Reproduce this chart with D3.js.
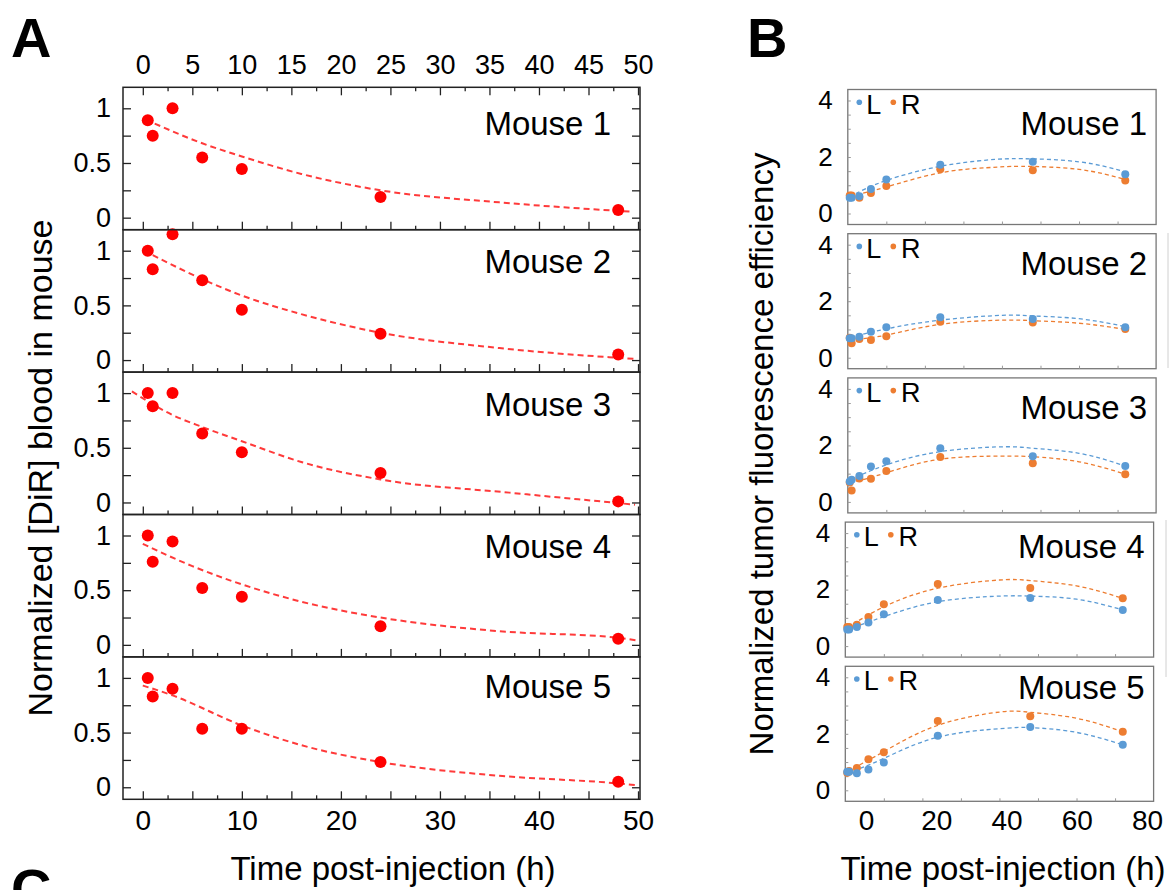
<!DOCTYPE html>
<html>
<head>
<meta charset="utf-8">
<script src="https://cdn.jsdelivr.net/npm/d3@7"></script>
<style>
  body { margin: 0; background: #fff; }
  svg { display: block; }
  text { font-family: "Liberation Sans", Arial, Helvetica, sans-serif; }
</style>
</head>
<body>
<svg id="fig" width="1173" height="890"></svg>
<script>
// ---------- panel A data: normalized [DiR] in blood ----------
var timesA = [0.5, 1, 3, 6, 10, 24, 48];
var mouse1 = [0.89, 0.75, 1.0, 0.55, 0.445, 0.19, 0.07];
var mouse2 = [1.0, 0.83, 1.15, 0.73, 0.46, 0.24, 0.05];
var mouse3 = [1.0, 0.88, 1.0, 0.63, 0.46, 0.27, 0.01];
var mouse4 = [1.0, 0.76, 0.945, 0.52, 0.44, 0.17, 0.055];
var mouse5 = [1.0, 0.83, 0.90, 0.535, 0.535, 0.23, 0.05];
var bloodA = [mouse1, mouse2, mouse3, mouse4, mouse5];

// fitted decay curves as [t, value]
var fit1 = [[1.2, 0.86], [6, 0.68], [10, 0.56], [16, 0.40], [24, 0.25], [36, 0.14], [49.3, 0.055]];
var fit2 = [[1, 0.96], [6, 0.74], [10, 0.59], [16, 0.42], [24, 0.25], [36, 0.11], [49.7, 0.01]];
var fit3 = [[-1.1, 1.015], [3, 0.80], [6, 0.69], [10, 0.56], [16, 0.37], [24, 0.21], [37, 0.09], [49.7, -0.02]];
var fit4 = [[0, 0.924], [5, 0.72], [10, 0.553], [16, 0.395], [24, 0.25], [36, 0.125], [48, 0.065], [50.1, 0.036]];
var fit5 = [[0, 0.93], [3, 0.84], [10, 0.565], [16, 0.385], [24, 0.23], [36, 0.105], [48, 0.035], [49.7, 0.02]];
var fitA = [fit1, fit2, fit3, fit4, fit5];

// ---------- panel B data: normalized tumor fluorescence ----------
var timesB = [0.5, 1, 3, 6, 10, 24, 48, 72];
var left1 = [0.56, 0.56, 0.61, 0.87, 1.20, 1.73, 1.83, 1.39];
var right1 = [0.64, 0.64, 0.56, 0.73, 0.97, 1.57, 1.53, 1.17];
var left2 = [0.69, 0.69, 0.74, 0.92, 1.08, 1.43, 1.37, 1.08];
var right2 = [0.71, 0.51, 0.66, 0.63, 0.76, 1.27, 1.25, 1.02];
var left3 = [0.72, 0.78, 0.92, 1.25, 1.44, 1.90, 1.62, 1.27];
var right3 = [0.69, 0.40, 0.83, 0.82, 1.09, 1.59, 1.37, 0.98];
var left4 = [0.59, 0.59, 0.68, 0.84, 1.13, 1.63, 1.70, 1.28];
var right4 = [0.68, 0.68, 0.76, 1.03, 1.48, 2.20, 2.06, 1.69];
var left5 = [0.66, 0.66, 0.60, 0.74, 0.98, 1.93, 2.24, 1.61];
var right5 = [0.62, 0.68, 0.79, 1.10, 1.35, 2.45, 2.62, 2.07];
var tumorL = [left1, left2, left3, left4, left5];
var tumorR = [right1, right2, right3, right4, right5];

// fitted curves for L and R, read as [t, value]
var fitL1 = [[0.5, 0.60], [10, 1.17], [24, 1.67], [36, 1.89], [45, 1.94], [60, 1.83], [72, 1.47]];
var fitR1 = [[0.5, 0.60], [10, 0.94], [24, 1.44], [36, 1.62], [45, 1.67], [60, 1.56], [72, 1.20]];
var fitL2 = [[0.5, 0.72], [10, 1.02], [24, 1.33], [40, 1.50], [48, 1.48], [60, 1.38], [72, 1.10]];
var fitR2 = [[0.5, 0.63], [10, 0.80], [24, 1.18], [40, 1.33], [48, 1.31], [60, 1.22], [72, 1.00]];
var fitL3 = [[0.5, 0.78], [10, 1.31], [24, 1.78], [40, 1.95], [48, 1.90], [60, 1.72], [72, 1.27]];
var fitR3 = [[0.5, 0.66], [10, 1.03], [24, 1.51], [40, 1.62], [48, 1.60], [60, 1.42], [72, 0.98]];
var fitL4 = [[0.5, 0.59], [10, 1.04], [24, 1.57], [40, 1.77], [48, 1.77], [60, 1.66], [72, 1.28]];
var fitR4 = [[0.5, 0.65], [10, 1.39], [24, 2.05], [40, 2.34], [48, 2.32], [60, 2.13], [72, 1.69]];
var fitL5 = [[0.5, 0.60], [10, 1.13], [24, 1.88], [40, 2.18], [48, 2.22], [60, 2.05], [72, 1.61]];
var fitR5 = [[0.5, 0.67], [10, 1.37], [24, 2.30], [40, 2.77], [48, 2.76], [60, 2.55], [72, 2.07]];
var fitL = [fitL1, fitL2, fitL3, fitL4, fitL5];
var fitR = [fitR1, fitR2, fitR3, fitR4, fitR5];

var mouseNames = ["Mouse 1", "Mouse 2", "Mouse 3", "Mouse 4", "Mouse 5"];

// tick values
var topLabelsA = [0, 5, 10, 15, 20, 25, 30, 35, 40, 45, 50];
var bottomLabelsA = [0, 10, 20, 30, 40, 50];
var majorTicksA = [0, 5, 10, 15, 20, 25, 30, 35, 40, 45, 50];
var minorTicksA = [2.5, 7.5, 12.5, 17.5, 22.5, 27.5, 32.5, 37.5, 42.5, 47.5];
var yTicksA = [0, 0.25, 0.5, 0.75, 1];
var yLabelsA = [0, 0.5, 1];
var xTicksB = [10, 20, 30, 40, 50, 60, 70];
var xLabelsB = [0, 20, 40, 60, 80];
var yTicksB = [0, 0.5, 1, 1.5, 2, 2.5, 3, 3.5, 4];
var yLabelsB = [0, 2, 4];

// ---------- drawing ----------
var svg = d3.select("#fig");
var fam = '"Liberation Sans", Arial, Helvetica, sans-serif';

function clean(g, color, w) {
  g.select(".domain").remove();
  g.selectAll(".tick line").attr("stroke", color).attr("stroke-width", w);
  g.attr("font-family", fam).attr("fill", null);
  g.selectAll(".tick text").attr("fill", "#000");
  return g;
}

// ---- panel A ----
var topA = 87.3, hA = 142.4, leftA = 123, rightA = 640;
var labelDyA = [47.7, 43, 44, 43.3, 41.3];
var xA = d3.scaleLinear().domain([-2, 50.2]).range([leftA, rightA]);
var yA = d3.scaleLinear().domain([-0.11, 1.192]).range([hA, 0]);
var lineA = d3.line().x(d => xA(d[0])).y(d => yA(d[1])).curve(d3.curveMonotoneX);

bloodA.forEach(function(vals, i) {
  var g = svg.append("g").attr("transform", "translate(0," + (topA + i * hA) + ")");

  g.append("path").datum(fitA[i])
    .attr("d", lineA)
    .attr("fill", "none")
    .attr("stroke", "#ff3a3a")
    .attr("stroke-width", 2)
    .attr("stroke-dasharray", "6,4");

  g.selectAll("circle").data(vals).enter().append("circle")
    .attr("cx", (d, j) => xA(timesA[j]))
    .attr("cy", d => yA(d))
    .attr("r", 6)
    .attr("fill", "#ff0000");

  g.append("rect")
    .attr("x", leftA).attr("y", 0)
    .attr("width", rightA - leftA).attr("height", hA)
    .attr("fill", "none").attr("stroke", "#222").attr("stroke-width", 1.5);

  // inward ticks
  clean(g.append("g").attr("transform", "translate(0," + hA + ")")
    .call(d3.axisBottom(xA).tickValues(majorTicksA).tickSize(-8).tickFormat("")), "#222", 1.3);
  clean(g.append("g").attr("transform", "translate(0," + hA + ")")
    .call(d3.axisBottom(xA).tickValues(minorTicksA).tickSize(-4).tickFormat("")), "#222", 1.3);
  clean(g.append("g").attr("transform", "translate(" + leftA + ",0)")
    .call(d3.axisLeft(yA).tickValues(yTicksA).tickSize(-8).tickFormat("")), "#222", 1.3);
  clean(g.append("g").attr("transform", "translate(" + rightA + ",0)")
    .call(d3.axisRight(yA).tickValues(yTicksA).tickSize(-8).tickFormat("")), "#222", 1.3);

  // y labels
  clean(g.append("g").attr("transform", "translate(" + leftA + ",0)")
    .call(d3.axisLeft(yA).tickValues(yLabelsA).tickSize(0).tickPadding(12).tickFormat(d3.format(""))), "#222", 0)
    .attr("font-size", 27);

  if (i === 0) {
    clean(g.append("g")
      .call(d3.axisTop(xA).tickValues(majorTicksA).tickSize(-8).tickFormat("")), "#222", 1.3);
    clean(g.append("g")
      .call(d3.axisTop(xA).tickValues(minorTicksA).tickSize(-4).tickFormat("")), "#222", 1.3);
    clean(g.append("g")
      .call(d3.axisTop(xA).tickValues(topLabelsA).tickSize(0).tickPadding(13)), "#222", 0)
      .attr("font-size", 27);
  }
  if (i === bloodA.length - 1) {
    clean(g.append("g").attr("transform", "translate(0," + hA + ")")
      .call(d3.axisBottom(xA).tickValues(bottomLabelsA).tickSize(0).tickPadding(11)), "#222", 0)
      .attr("font-size", 28);
  }

  g.append("text")
    .attr("x", 611).attr("y", labelDyA[i])
    .attr("text-anchor", "end")
    .attr("font-size", 33)
    .text(mouseNames[i]);
});

// ---- panel B ----
var topB = 89.5, stepB = 144.2, hB = 135, leftB = 847.8, wB = 308.3;
var shiftB = [0, 0, 0, -2.5, -2.5];
var labelDyB = [45, 41, 41, 36, 33];
var colL = "#5b9bd5", colR = "#ed7d31";
var yB = d3.scaleLinear().domain([-0.389, 4.389]).range([hB, 0]);

tumorL.forEach(function(valsL, i) {
  var x0 = leftB + shiftB[i];
  var xB = d3.scaleLinear().domain([0, 80]).range([x0, x0 + wB]);
  var lineB = d3.line().x(d => xB(d[0])).y(d => yB(d[1])).curve(d3.curveNatural);
  var g = svg.append("g").attr("transform", "translate(0," + (topB + i * stepB) + ")");

  g.append("rect")
    .attr("x", x0).attr("y", 0).attr("width", wB).attr("height", hB)
    .attr("fill", "none").attr("stroke", "#777").attr("stroke-width", 1.3);

  clean(g.append("g").attr("transform", "translate(0," + hB + ")")
    .call(d3.axisBottom(xB).tickValues(xTicksB).tickSize(-3).tickFormat("")), "#999", 1);
  clean(g.append("g").attr("transform", "translate(" + x0 + ",0)")
    .call(d3.axisLeft(yB).tickValues(yTicksB).tickSize(-3).tickFormat("")), "#999", 1);
  clean(g.append("g").attr("transform", "translate(" + x0 + ",0)")
    .call(d3.axisLeft(yB).tickValues(yLabelsB).tickSize(0).tickPadding(15).tickFormat(d3.format("d"))), "#999", 0)
    .attr("font-size", 26);

  [[fitL[i], colL], [fitR[i], colR]].forEach(function(p) {
    g.append("path").datum(p[0])
      .attr("d", lineB)
      .attr("fill", "none")
      .attr("stroke", p[1])
      .attr("stroke-width", 1.3)
      .attr("stroke-dasharray", "4,3");
  });

  [[tumorR[i], colR], [valsL, colL]].forEach(function(p) {
    g.append("g").selectAll("circle").data(p[0]).enter().append("circle")
      .attr("cx", (d, j) => xB(timesB[j]))
      .attr("cy", d => yB(d))
      .attr("r", 4)
      .attr("fill", p[1]);
  });

  // legend
  g.append("circle").attr("cx", x0 + 11.5).attr("cy", 12.7).attr("r", 2.8).attr("fill", colL);
  g.append("text").attr("x", x0 + 18.5).attr("y", 24).attr("font-size", 27).text("L");
  g.append("circle").attr("cx", x0 + 45.5).attr("cy", 12.7).attr("r", 2.8).attr("fill", colR);
  g.append("text").attr("x", x0 + 53.3).attr("y", 24).attr("font-size", 27).text("R");

  g.append("text")
    .attr("x", x0 + wB - 9).attr("y", labelDyB[i])
    .attr("text-anchor", "end")
    .attr("font-size", 33)
    .text(mouseNames[i]);

  if (i === tumorL.length - 1) {
    // the printed labels sit on their own, slightly narrower spacing
    var xLab = d3.scaleLinear().domain([0, 80]).range([866, 1147]);
    clean(g.append("g").attr("transform", "translate(0," + hB + ")")
      .call(d3.axisBottom(xLab).tickValues(xLabelsB).tickSize(0).tickPadding(9)), "#999", 0)
      .attr("font-size", 28);
  }
});

// faint edges of the neighbouring figure
svg.append("line").attr("x1", 1168).attr("x2", 1168).attr("y1", 233).attr("y2", 368)
  .attr("stroke", "#d0d0d0").attr("stroke-width", 1);
svg.append("line").attr("x1", 1166).attr("x2", 1166).attr("y1", 520).attr("y2", 677)
  .attr("stroke", "#d0d0d0").attr("stroke-width", 1);

// ---- axis titles ----
svg.append("text")
  .attr("transform", "translate(52,468) rotate(-90)")
  .attr("text-anchor", "middle").attr("font-size", 34)
  .text("Normalized [DiR] blood in mouse");
svg.append("text")
  .attr("x", 393).attr("y", 880)
  .attr("text-anchor", "middle").attr("font-size", 33)
  .text("Time post-injection (h)");
svg.append("text")
  .attr("transform", "translate(773,454) rotate(-90)")
  .attr("text-anchor", "middle").attr("font-size", 33)
  .text("Normalized tumor fluorescence efficiency");
svg.append("text")
  .attr("x", 1003).attr("y", 880)
  .attr("text-anchor", "middle").attr("font-size", 33)
  .text("Time post-injection (h)");

// ---- panel letters (C is the next panel, cut by the page edge) ----
svg.append("text").attr("x", 11).attr("y", 57).attr("font-size", 56).attr("font-weight", "bold").text("A");
svg.append("text").attr("x", 747).attr("y", 57).attr("font-size", 56).attr("font-weight", "bold").text("B");
svg.append("text").attr("x", 11).attr("y", 908).attr("font-size", 56).attr("font-weight", "bold").text("C");
</script>
</body>
</html>
